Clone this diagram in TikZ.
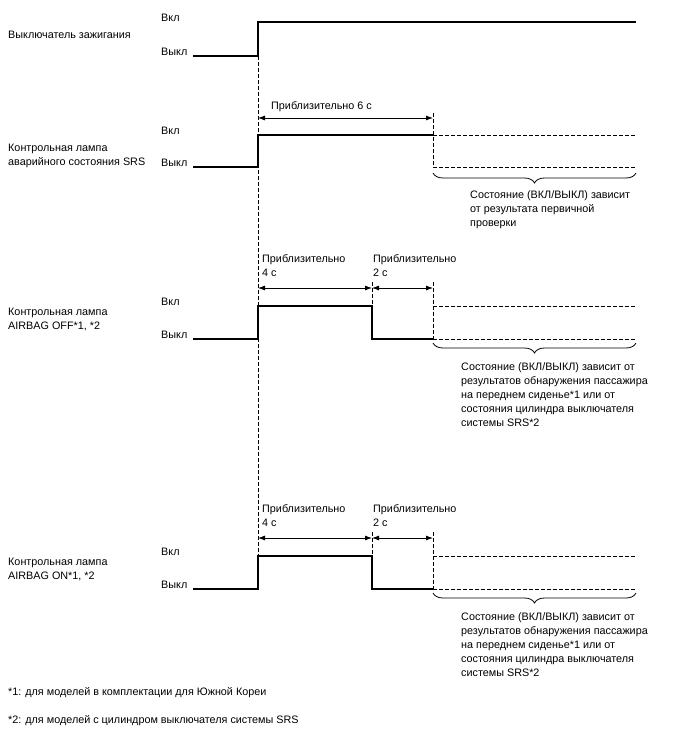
\documentclass[tikz,border=0pt]{standalone}
\usepackage{fontspec}
\setmainfont{Liberation Sans}
\usetikzlibrary{arrows.meta,decorations.pathreplacing,positioning}

\begin{document}
\begin{tikzpicture}[x=1pt,y=-1pt,
  signal/.style={line width=1.3pt,line join=miter},
  shtrikh/.style={line width=0.8pt,dash pattern=on 4pt off 2pt},
  interval/.style={line width=0.8pt,{Latex[length=7pt,width=5pt]}-{Latex[length=7pt,width=5pt]}},
  skobka/.style={line width=0.8pt,decorate,decoration={brace,amplitude=10pt}},
  tekst/.style={font=\fontsize{10.8}{14}\selectfont,inner sep=0pt,anchor=base west,align=left}]
  \useasboundingbox (0,0) rectangle (688,755);
  % Выключатель зажигания: переход в ВКЛ в момент t0.
  % (у многострочных подписей опорная точка -- базовая линия последней строки)
  \node[tekst] (zazh) at (8,38) {Выключатель зажигания};
  \node[tekst] (vkl-z) at (161,21) {Вкл};
  \node[tekst] (vykl-z) at (161,55) {Выкл};
  \coordinate (z0) at (193,56);
  \coordinate (z1) at (258,56);
  \coordinate (z2) at (258,22);
  \coordinate (z3) at (636,22);
  \draw[signal] (z0) -- (z1) -- (z2) -- (z3);
  % Лампа SRS: горит около 6 с, затем зависит от проверки.
  \node[tekst] (srs) at (8,165) {Контрольная лампа\\аварийного состояния SRS};
  \node[tekst] (vkl-s) at (161,134) {Вкл};
  \node[tekst] (vykl-s) at (161,166) {Выкл};
  \coordinate (s0) at (193,167);
  \coordinate (s1) at (258,167);
  \coordinate (s2) at (258,135);
  \coordinate (s3) at (433,135);
  \coordinate (s4) at (433,167);
  \coordinate (s5) at (636,135);
  \coordinate (s6) at (636,167);
  \coordinate (sa) at (258,118);
  \coordinate (sb) at (433,118);
  \coordinate (sc) at (433,113);
  \draw[signal] (s0) -- (s1) -- (s2) -- (s3);
  \draw[shtrikh] (s3) -- (s5);
  \draw[shtrikh] (s4) -- (s6);
  \draw[shtrikh] (sc) -- (s4);
  \draw[interval] (sa) -- (sb);
  \node[tekst] (vremya-s) at (271,109) {Приблизительно 6 с};
  \draw[skobka] ([yshift=-6pt]s6) -- ([yshift=-6pt]s4);
  \node[tekst] (prim-s) at (470,226) {Состояние (ВКЛ/ВЫКЛ) зависит\\от результата первичной\\проверки};
  % Лампы AIRBAG OFF и AIRBAG ON: одинаковые диаграммы со сдвигом.
  \foreach \dy/\imya/\nazv in {0/off/{AIRBAG OFF*1, *2},250/on/{AIRBAG ON*1, *2}}{
    \begin{scope}[shift={(0,\dy)}]
      \node[tekst] (lamp-\imya) at (8,329) {Контрольная лампа\\\nazv};
      \node[tekst] (vkl-\imya) at (161,305) {Вкл};
      \node[tekst] (vykl-\imya) at (161,338) {Выкл};
      \coordinate (a0-\imya) at (193,339);
      \coordinate (a1-\imya) at (258,339);
      \coordinate (a2-\imya) at (258,306);
      \coordinate (a3-\imya) at (372,306);
      \coordinate (a4-\imya) at (372,339);
      \coordinate (a5-\imya) at (433,339);
      \coordinate (a6-\imya) at (433,306);
      \coordinate (a7-\imya) at (636,306);
      \coordinate (a8-\imya) at (636,339);
      \coordinate (m1-\imya) at (258,288);
      \coordinate (m2-\imya) at (372,288);
      \coordinate (m3-\imya) at (433,288);
      \coordinate (k2-\imya) at (372,282);
      \coordinate (k3-\imya) at (433,282);
      \draw[signal] (a0-\imya) -- (a1-\imya) -- (a2-\imya) -- (a3-\imya)
        -- (a4-\imya) -- (a5-\imya);
      \draw[shtrikh] (a6-\imya) -- (a7-\imya);
      \draw[shtrikh] (a5-\imya) -- (a8-\imya);
      \draw[shtrikh] (k2-\imya) -- (a3-\imya);
      \draw[shtrikh] (k3-\imya) -- (a5-\imya);
      \draw[interval] (m1-\imya) -- (m2-\imya);
      \draw[interval] (m2-\imya) -- (m3-\imya);
      \node[tekst] (vremya1-\imya) at (262,276) {Приблизительно\\4 с};
      \node[tekst] (vremya2-\imya) at (373,276) {Приблизительно\\2 с};
      \draw[skobka] ([yshift=-4pt]a8-\imya) -- ([yshift=-4pt]a5-\imya);
      \node[tekst] (prim-\imya) at (461,426) {Состояние (ВКЛ/ВЫКЛ) зависит от\\результатов обнаружения пассажира\\на переднем сиденье*1 или от\\состояния цилиндра выключателя\\системы SRS*2};
    \end{scope}
  }
  % Общая пунктирная отметка момента включения.
  \draw[shtrikh] (z1) -- (a2-on);
  % Примечания.
  \node[tekst] (sn1) at (8,695) {*1: для моделей в комплектации для Южной Кореи};
  \node[tekst] (sn2) at (8,723) {*2: для моделей с цилиндром выключателя системы SRS};
\end{tikzpicture}
\end{document}
